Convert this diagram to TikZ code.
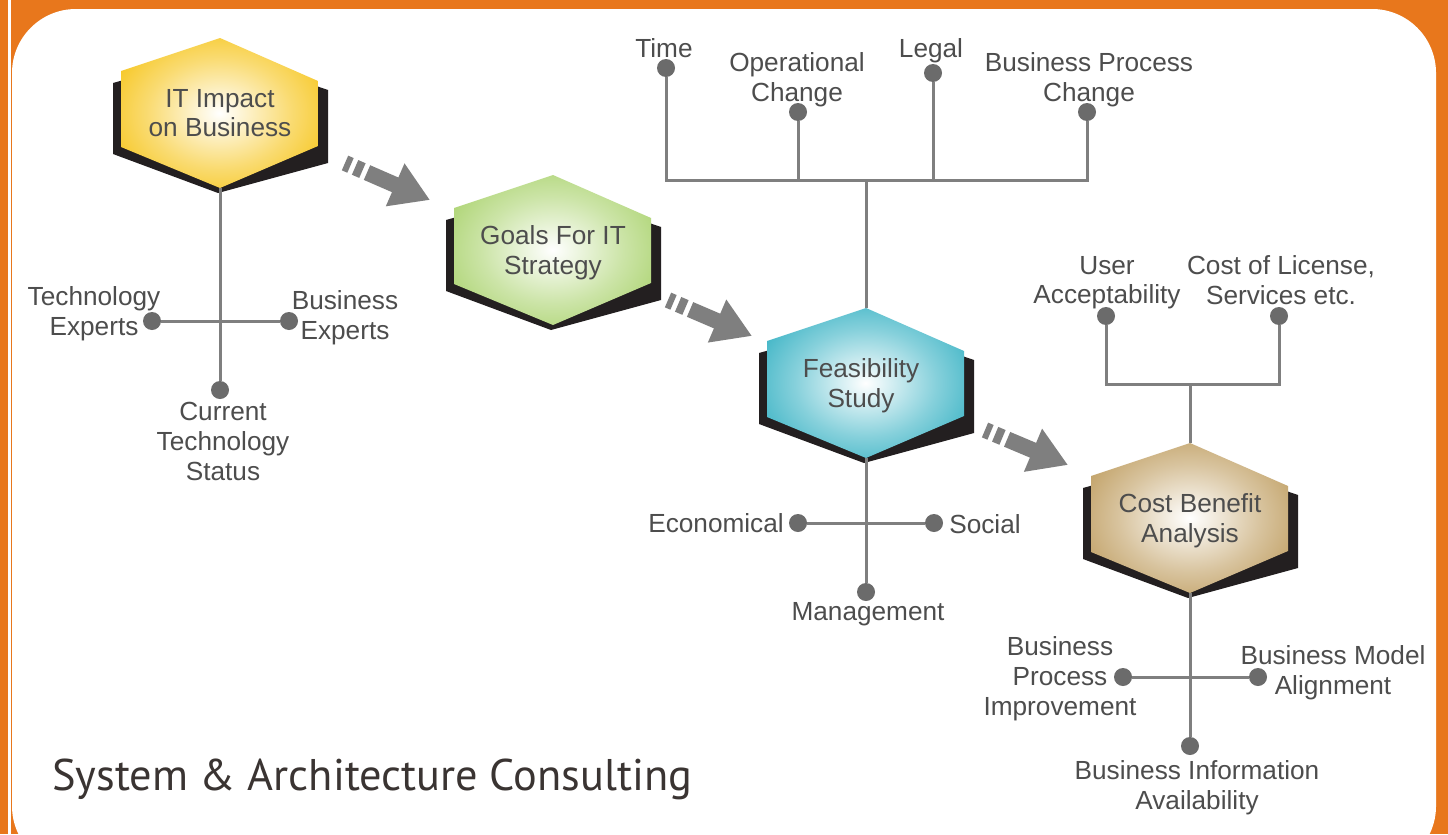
\documentclass[tikz,border=0pt]{standalone}
\usepackage{fontspec}
\setmainfont{Liberation Sans}
\newfontfamily\titlefont{PT Sans}
\usetikzlibrary{arrows.meta,calc}

\definecolor{frameorange}{HTML}{E8771C}
\definecolor{shadowblack}{HTML}{231F20}
\definecolor{labelgray}{HTML}{4D4D4D}
\definecolor{linegray}{HTML}{7F7F7F}
\definecolor{dotgray}{HTML}{6B6B6B}
\definecolor{arrowgray}{HTML}{7F7F7F}
\definecolor{titlegray}{HTML}{3A3432}
\definecolor{impactyellow}{HTML}{F6C417}
\definecolor{goalgreen}{HTML}{A9D26C}
\definecolor{feascyan}{HTML}{35B1C3}
\definecolor{costtan}{HTML}{BE9C5E}

\pgfdeclareradialshading{glowimpact}{\pgfpointorigin}{color(0bp)=(white); color(6bp)=(impactyellow!20!white); color(18bp)=(impactyellow!60!white); color(32bp)=(impactyellow); color(50bp)=(impactyellow)}
\pgfdeclareradialshading{glowgoals}{\pgfpointorigin}{color(0bp)=(white); color(6bp)=(goalgreen!20!white); color(18bp)=(goalgreen!60!white); color(32bp)=(goalgreen); color(50bp)=(goalgreen)}
\pgfdeclareradialshading{glowfeas}{\pgfpointorigin}{color(0bp)=(white); color(6bp)=(feascyan!20!white); color(18bp)=(feascyan!60!white); color(32bp)=(feascyan); color(50bp)=(feascyan)}
\pgfdeclareradialshading{glowcost}{\pgfpointorigin}{color(0bp)=(white); color(6bp)=(costtan!20!white); color(18bp)=(costtan!60!white); color(32bp)=(costtan); color(50bp)=(costtan)}

\newcommand{\labelfont}{\fontsize{26.3}{30}\selectfont}

% hexagon with its dark shadow, #1 centre, #2 shading
\newcommand{\hexat}[2]{%
  \begin{scope}[shift={(#1)}]
    \fill[shadowblack] (-107,-30) -- (-107,41) -- (-2,80) -- (108,50) -- (108,-23) -- (0,-60) -- cycle;
    \shade[shading=#2] (0,-75) -- (98,-32) -- (98,33) -- (0,75) -- (-99,34) -- (-99,-42) -- cycle;
  \end{scope}}

\tikzset{
  hexlabel/.style={minimum width=197bp, minimum height=150bp, inner sep=0pt, align=center, text depth=0pt, text=labelgray, font=\labelfont},
  branch/.style={draw=linegray, line width=3bp},
  leaf/.style={circle, fill=dotgray, inner sep=0pt, minimum size=18bp},
  leaftext/.style={align=center, text depth=0pt, text=labelgray, font=\labelfont, inner sep=0pt},
  flowarrow/.style={draw=arrowgray, line width=16bp, dash pattern=on 6bp off 5bp on 8bp off 5bp on 300bp, -{Triangle[length=38bp, width=44bp]}}
}

\begin{document}
\begin{tikzpicture}[x=1bp, y=-1bp]
\useasboundingbox (0,0) rectangle (1448,834);

% frame
\fill[frameorange] (0,0) rectangle (1448,834);
\fill[white] (8,0) rectangle (11,834);
\fill[white, rounded corners=64bp] (12,9) rectangle (1436,870);

% hexagons
\hexat{220,113}{glowimpact}
\hexat{553,250}{glowgoals}
\hexat{866,383}{glowfeas}
\hexat{1190,518}{glowcost}

\node[hexlabel] (impact) at (220,113) {IT Impact\\on Business};
\node[hexlabel] (goals) at (553,250) {Goals For IT\\Strategy};
\node[hexlabel] (feas) at (866,383) {\hspace*{-10bp}Feasibility\\\hspace*{-10bp}Study};
\node[hexlabel] (cost) at (1190,518) {Cost Benefit\\Analysis};

% IT impact leaves
\node[leaf] (tech-dot) at (152,321) {};
\node[leaf] (biz-dot) at (289,321) {};
\node[leaf] (status-dot) at (220,390) {};
\node[leaftext] (tech) at (94,311) {Technology\\Experts};
\node[leaftext] (biz) at (345,315) {Business\\Experts};
\node[leaftext] (status) at (223,441) {Current\\Technology\\Status};
\draw[branch] (impact.south) -- (status-dot);
\draw[branch] (tech-dot) -- (biz-dot);

% feasibility leaves, top
\coordinate (feas-hub) at (866,180);
\node[leaf] (time-dot) at (666,68) {};
\node[leaf] (oper-dot) at (798,112) {};
\node[leaf] (legal-dot) at (933,73) {};
\node[leaf] (proc-dot) at (1087,112) {};
\node[leaftext] (time) at (664,48) {Time};
\node[leaftext] (oper) at (797,77) {Operational\\Change};
\node[leaftext] (legal) at (931,48) {Legal};
\node[leaftext] (proc) at (1089,77) {Business Process\\Change};
\draw[branch] (time-dot) |- (feas-hub) -| (proc-dot);
\draw[branch] (oper-dot) -- (oper-dot |- feas-hub);
\draw[branch] (legal-dot) -- (legal-dot |- feas-hub);
\draw[branch] (feas-hub) -- (feas.north);

% feasibility leaves, bottom
\node[leaf] (econ-dot) at (798,523) {};
\node[leaf] (social-dot) at (934,523) {};
\node[leaf] (mgmt-dot) at (866,592) {};
\node[leaftext] (econ) at (716,523) {Economical};
\node[leaftext] (social) at (985,524) {Social};
\node[leaftext] (mgmt) at (868,611) {Management};
\draw[branch] (feas.south) -- (mgmt-dot);
\draw[branch] (econ-dot) -- (social-dot);

% cost benefit leaves, top
\coordinate (cost-hub) at (1190,384);
\node[leaf] (user-dot) at (1106,316) {};
\node[leaf] (lic-dot) at (1279,316) {};
\node[leaftext] (user) at (1107,280) {User\\Acceptability};
\node[leaftext] (lic) at (1281,280) {Cost of License,\\Services etc.};
\draw[branch] (user-dot) |- (cost-hub) -| (lic-dot);
\draw[branch] (cost-hub) -- (cost.north);

% cost benefit leaves, bottom
\node[leaf] (impr-dot) at (1123,677) {};
\node[leaf] (model-dot) at (1258,677) {};
\node[leaf] (info-dot) at (1190,746) {};
\node[leaftext] (impr) at (1060,676) {Business\\Process\\Improvement};
\node[leaftext] (model) at (1333,670) {Business Model\\Alignment};
\node[leaftext] (info) at (1197,785) {Business Information\\Availability};
\draw[branch] (cost.south) -- (info-dot);
\draw[branch] (impr-dot) -- (model-dot);

% flow arrows
\coordinate (impact-out) at (345,163);
\coordinate (goals-in) at (430,200);
\coordinate (goals-out) at (668,300);
\coordinate (feas-in) at (752,336);
\coordinate (feas-out) at (985,430);
\coordinate (cost-in) at (1068,465);
\draw[flowarrow] (impact-out) -- (goals-in);
\draw[flowarrow] (goals-out) -- (feas-in);
\draw[flowarrow] (feas-out) -- (cost-in);

% title
\node[anchor=base west, inner sep=0pt, text=titlegray, font=\titlefont\fontsize{44.5}{50}\selectfont] (title) at (52,790) {System \& Architecture Consulting};
\end{tikzpicture}
\end{document}
